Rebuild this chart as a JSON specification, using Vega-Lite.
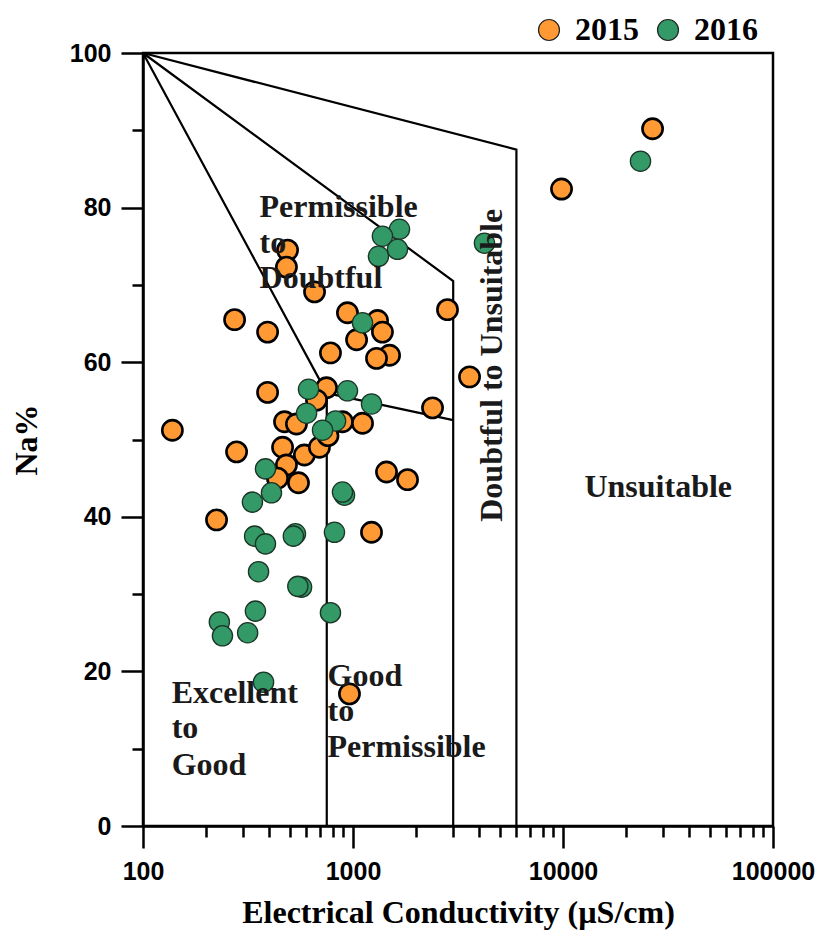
{
  "$schema": "https://vega.github.io/schema/vega-lite/v6.json",
  "width": 630,
  "height": 773,
  "autosize": {"type": "none"},
  "padding": {"left": 143, "top": 53, "right": 43, "bottom": 104},
  "background": "white",
  "config": {
    "view": {"stroke": "black", "strokeWidth": 2.5},
    "axis": {
      "grid": false,
      "domainColor": "black",
      "domainWidth": 2.5,
      "tickColor": "black",
      "tickWidth": 2.5,
      "labelFont": "Liberation Sans",
      "labelFontWeight": "bold",
      "labelFontSize": 25,
      "labelColor": "black",
      "titleFont": "Liberation Serif",
      "titleFontWeight": "bold",
      "titleFontSize": 32,
      "titleColor": "black"
    },
    "legend": {
      "orient": "none",
      "legendX": 390,
      "legendY": -39,
      "direction": "horizontal",
      "symbolSize": 440,
      "symbolType": "circle",
      "symbolStrokeColor": "#222",
      "symbolStrokeWidth": 1.2,
      "symbolOpacity": 1,
      "labelFont": "Liberation Serif",
      "labelFontWeight": "bold",
      "labelFontSize": 32,
      "labelColor": "black",
      "columnPadding": 13,
      "labelOffset": 10
    }
  },
  "layer": [
    {
      "data": {
        "values": [
          {"seg": "A", "ord": 1, "ec": 100, "na": 100},
          {"seg": "A", "ord": 2, "ec": 6000, "na": 87.5},
          {"seg": "A", "ord": 3, "ec": 6000, "na": 0},
          {"seg": "B", "ord": 1, "ec": 100, "na": 100},
          {"seg": "B", "ord": 2, "ec": 3000, "na": 70.5},
          {"seg": "B", "ord": 3, "ec": 3000, "na": 0},
          {"seg": "C", "ord": 1, "ec": 100, "na": 100},
          {"seg": "C", "ord": 2, "ec": 750, "na": 56},
          {"seg": "C", "ord": 3, "ec": 750, "na": 0},
          {"seg": "D", "ord": 1, "ec": 750, "na": 56},
          {"seg": "D", "ord": 2, "ec": 3000, "na": 52.5}
        ]
      },
      "mark": {"type": "line", "color": "black", "strokeWidth": 2.2},
      "encoding": {
        "x": {
          "field": "ec", "type": "quantitative",
          "scale": {"type": "log", "domain": [100, 100000], "nice": false},
          "title": "Electrical Conductivity (µS/cm)",
          "axis": {
            "values": [100,200,300,400,500,600,700,800,900,1000,2000,3000,4000,5000,6000,7000,8000,9000,10000,20000,30000,40000,50000,60000,70000,80000,90000,100000],
            "format": "d",
            "labelExpr": "indexof([100,1000,10000,100000], datum.value) >= 0 ? datum.label : ''",
            "tickSize": {"condition": {"test": "indexof([100,1000,10000,100000], datum.value) >= 0", "value": 22}, "value": 11},
            "labelPadding": 11,
            "labelFlush": false,
            "labelOverlap": false,
            "titlePadding": 13
          }
        },
        "y": {
          "field": "na", "type": "quantitative",
          "scale": {"domain": [0, 100], "nice": false},
          "title": "Na%",
          "axis": {
            "values": [0,10,20,30,40,50,60,70,80,90,100],
            "labelExpr": "datum.value % 20 == 0 ? datum.label : ''",
            "tickSize": {"condition": {"test": "datum.value % 20 == 0", "value": 22}, "value": 11},
            "labelPadding": 10,
            "labelFlush": false,
            "labelOverlap": false,
            "titlePadding": 26
          }
        },
        "detail": {"field": "seg"},
        "order": {"field": "ord"}
      }
    },
    {
      "data": {
        "values": [
          {"year": "2015", "ec": 26700, "na": 90.2},
          {"year": "2015", "ec": 9840, "na": 82.4},
          {"year": "2015", "ec": 138, "na": 51.2},
          {"year": "2015", "ec": 488, "na": 74.5},
          {"year": "2015", "ec": 482, "na": 72.3},
          {"year": "2015", "ec": 656, "na": 69.1},
          {"year": "2015", "ec": 273, "na": 65.5},
          {"year": "2015", "ec": 392, "na": 63.9},
          {"year": "2015", "ec": 781, "na": 61.2},
          {"year": "2015", "ec": 392, "na": 56.1},
          {"year": "2015", "ec": 748, "na": 56.7},
          {"year": "2015", "ec": 670, "na": 55.1},
          {"year": "2015", "ec": 941, "na": 66.4},
          {"year": "2015", "ec": 1309, "na": 65.4},
          {"year": "2015", "ec": 1381, "na": 63.9},
          {"year": "2015", "ec": 1040, "na": 62.9},
          {"year": "2015", "ec": 1493, "na": 60.9},
          {"year": "2015", "ec": 1294, "na": 60.5},
          {"year": "2015", "ec": 2818, "na": 66.8},
          {"year": "2015", "ec": 3589, "na": 58.1},
          {"year": "2015", "ec": 279, "na": 48.4},
          {"year": "2015", "ec": 2392, "na": 54.1},
          {"year": "2015", "ec": 472, "na": 52.3},
          {"year": "2015", "ec": 538, "na": 52.0},
          {"year": "2015", "ec": 891, "na": 52.3},
          {"year": "2015", "ec": 1110, "na": 52.1},
          {"year": "2015", "ec": 462, "na": 49.0},
          {"year": "2015", "ec": 587, "na": 48.0},
          {"year": "2015", "ec": 692, "na": 49.0},
          {"year": "2015", "ec": 760, "na": 50.5},
          {"year": "2015", "ec": 482, "na": 46.7},
          {"year": "2015", "ec": 437, "na": 45.0},
          {"year": "2015", "ec": 550, "na": 44.4},
          {"year": "2015", "ec": 224, "na": 39.6},
          {"year": "2015", "ec": 1225, "na": 38.0},
          {"year": "2015", "ec": 1444, "na": 45.8},
          {"year": "2015", "ec": 1818, "na": 44.8},
          {"year": "2015", "ec": 962, "na": 17.1},
          {"year": "2016", "ec": 23390, "na": 86.0},
          {"year": "2016", "ec": 4227, "na": 75.4},
          {"year": "2016", "ec": 1665, "na": 77.2},
          {"year": "2016", "ec": 1381, "na": 76.3},
          {"year": "2016", "ec": 1629, "na": 74.6},
          {"year": "2016", "ec": 1322, "na": 73.7},
          {"year": "2016", "ec": 1110, "na": 65.1},
          {"year": "2016", "ec": 614, "na": 56.5},
          {"year": "2016", "ec": 941, "na": 56.3},
          {"year": "2016", "ec": 1225, "na": 54.6},
          {"year": "2016", "ec": 601, "na": 53.4},
          {"year": "2016", "ec": 826, "na": 52.4},
          {"year": "2016", "ec": 716, "na": 51.2},
          {"year": "2016", "ec": 383, "na": 46.2},
          {"year": "2016", "ec": 409, "na": 43.1},
          {"year": "2016", "ec": 332, "na": 41.9},
          {"year": "2016", "ec": 911, "na": 42.8},
          {"year": "2016", "ec": 891, "na": 43.2},
          {"year": "2016", "ec": 340, "na": 37.5},
          {"year": "2016", "ec": 383, "na": 36.5},
          {"year": "2016", "ec": 532, "na": 37.8},
          {"year": "2016", "ec": 520, "na": 37.5},
          {"year": "2016", "ec": 816, "na": 38.0},
          {"year": "2016", "ec": 355, "na": 32.9},
          {"year": "2016", "ec": 569, "na": 30.9},
          {"year": "2016", "ec": 546, "na": 31.0},
          {"year": "2016", "ec": 343, "na": 27.8},
          {"year": "2016", "ec": 781, "na": 27.6},
          {"year": "2016", "ec": 231, "na": 26.4},
          {"year": "2016", "ec": 239, "na": 24.6},
          {"year": "2016", "ec": 315, "na": 25.0},
          {"year": "2016", "ec": 375, "na": 18.6}
        ]
      },
      "mark": {"type": "point", "shape": "circle", "filled": true, "opacity": 1, "size": 410},
      "encoding": {
        "x": {"field": "ec", "type": "quantitative"},
        "y": {"field": "na", "type": "quantitative"},
        "color": {
          "field": "year", "type": "nominal",
          "scale": {"domain": ["2015", "2016"], "range": ["#FF9933", "#339966"]},
          "legend": {"title": null}
        },
        "stroke": {"condition": {"test": "datum.year == '2015'", "value": "black"}, "value": "#1a3626"},
        "strokeWidth": {"condition": {"test": "datum.year == '2015'", "value": 2.6}, "value": 1.3}
      }
    },
    {
      "data": {
        "values": [
          {"label": "Permissible", "ec": 359, "na": 80.1},
          {"label": "to", "ec": 359, "na": 75.4},
          {"label": "Doubtful", "ec": 359, "na": 70.9},
          {"label": "Excellent", "ec": 137, "na": 17.2},
          {"label": "to", "ec": 137, "na": 12.7},
          {"label": "Good", "ec": 137, "na": 7.9},
          {"label": "Good", "ec": 756, "na": 19.4},
          {"label": "to", "ec": 756, "na": 14.9},
          {"label": "Permissible", "ec": 756, "na": 10.2},
          {"label": "Unsuitable", "ec": 12650, "na": 43.9}
        ]
      },
      "mark": {"type": "text", "align": "left", "baseline": "middle", "font": "Liberation Serif", "fontWeight": "bold", "fontSize": 32, "color": "#1a1a1a"},
      "encoding": {
        "x": {"field": "ec", "type": "quantitative"},
        "y": {"field": "na", "type": "quantitative"},
        "text": {"field": "label"}
      }
    },
    {
      "data": {
        "values": [
          {"label": "Doubtful to Unsuitable", "ec": 4571, "na": 59.6}
        ]
      },
      "mark": {"type": "text", "align": "center", "baseline": "middle", "angle": 270, "font": "Liberation Serif", "fontWeight": "bold", "fontSize": 32, "color": "#1a1a1a"},
      "encoding": {
        "x": {"field": "ec", "type": "quantitative"},
        "y": {"field": "na", "type": "quantitative"},
        "text": {"field": "label"}
      }
    }
  ]
}
